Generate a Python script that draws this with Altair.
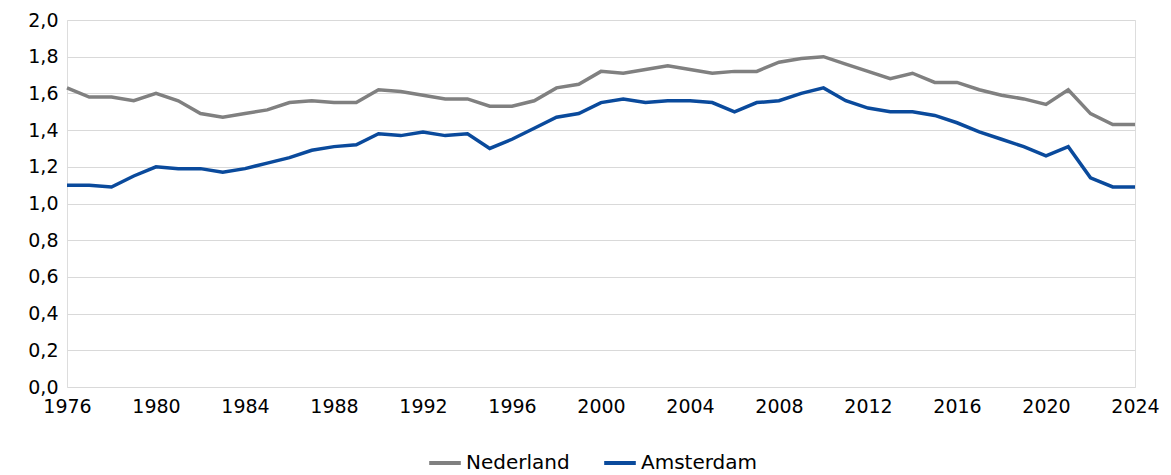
import altair as alt
import pandas as pd

years = list(range(1976, 2025))
nederland = [1.63, 1.58, 1.58, 1.56, 1.60, 1.56, 1.49, 1.47, 1.49, 1.51,
             1.55, 1.56, 1.55, 1.55, 1.62, 1.61, 1.59, 1.57, 1.57, 1.53,
             1.53, 1.56, 1.63, 1.65, 1.72, 1.71, 1.73, 1.75, 1.73, 1.71,
             1.72, 1.72, 1.77, 1.79, 1.80, 1.76, 1.72, 1.68, 1.71, 1.66,
             1.66, 1.62, 1.59, 1.57, 1.54, 1.62, 1.49, 1.43, 1.43]
amsterdam = [1.10, 1.10, 1.09, 1.15, 1.20, 1.19, 1.19, 1.17, 1.19, 1.22,
             1.25, 1.29, 1.31, 1.32, 1.38, 1.37, 1.39, 1.37, 1.38, 1.30,
             1.35, 1.41, 1.47, 1.49, 1.55, 1.57, 1.55, 1.56, 1.56, 1.55,
             1.50, 1.55, 1.56, 1.60, 1.63, 1.56, 1.52, 1.50, 1.50, 1.48,
             1.44, 1.39, 1.35, 1.31, 1.26, 1.31, 1.14, 1.09, 1.09]
series = ["Nederland", "Amsterdam"]
colors = ["#808080", "#0A4A9C"]

rows = []
for name, vals in zip(series, [nederland, amsterdam]):
    for y, v in zip(years, vals):
        rows.append({"jaar": y, "waarde": v, "reeks": name})
df = pd.DataFrame(rows)

FONT = "DejaVu Sans"

chart = alt.Chart(df).mark_line(strokeWidth=3.5).encode(
    x=alt.X("jaar:Q",
            scale=alt.Scale(domain=[1976, 2024], nice=False, zero=False),
            axis=alt.Axis(values=list(range(1976, 2025, 4)), format="d",
                          title=None, grid=False, ticks=False, domain=False,
                          labelPadding=10, labelFontSize=19, labelColor="#000000",
                          labelFont=FONT, labelFlush=False)),
    y=alt.Y("waarde:Q",
            scale=alt.Scale(domain=[0, 2.0], nice=False),
            axis=alt.Axis(values=[0, 0.2, 0.4, 0.6, 0.8, 1.0, 1.2, 1.4, 1.6, 1.8, 2.0],
                          labelExpr="replace(format(datum.value, '.1f'), '.', ',')",
                          title=None, ticks=False, domain=False,
                          gridColor="#d9d9d9", gridWidth=1.2,
                          labelPadding=9, labelFontSize=19, labelColor="#000000",
                          labelFont=FONT)),
    color=alt.Color("reeks:N",
                    scale=alt.Scale(domain=series, range=colors),
                    legend=alt.Legend(title=None, orient="none", direction="horizontal",
                                      legendX=360, legendY=425,
                                      symbolType="stroke", symbolSize=1000,
                                      symbolStrokeWidth=4, labelFontSize=20,
                                      labelFont=FONT, labelColor="#000000",
                                      columnPadding=26, labelOffset=3)),
).properties(
    width=1068, height=367,
    autosize=alt.AutoSizeParams(type="none"),
    padding={"left": 67, "top": 20, "right": 36, "bottom": 88},
).configure_view(
    stroke="#d9d9d9", strokeWidth=1.2
).configure(background="#ffffff")

chart.save("out.html", embed_options={"renderer": "svg", "actions": False})
